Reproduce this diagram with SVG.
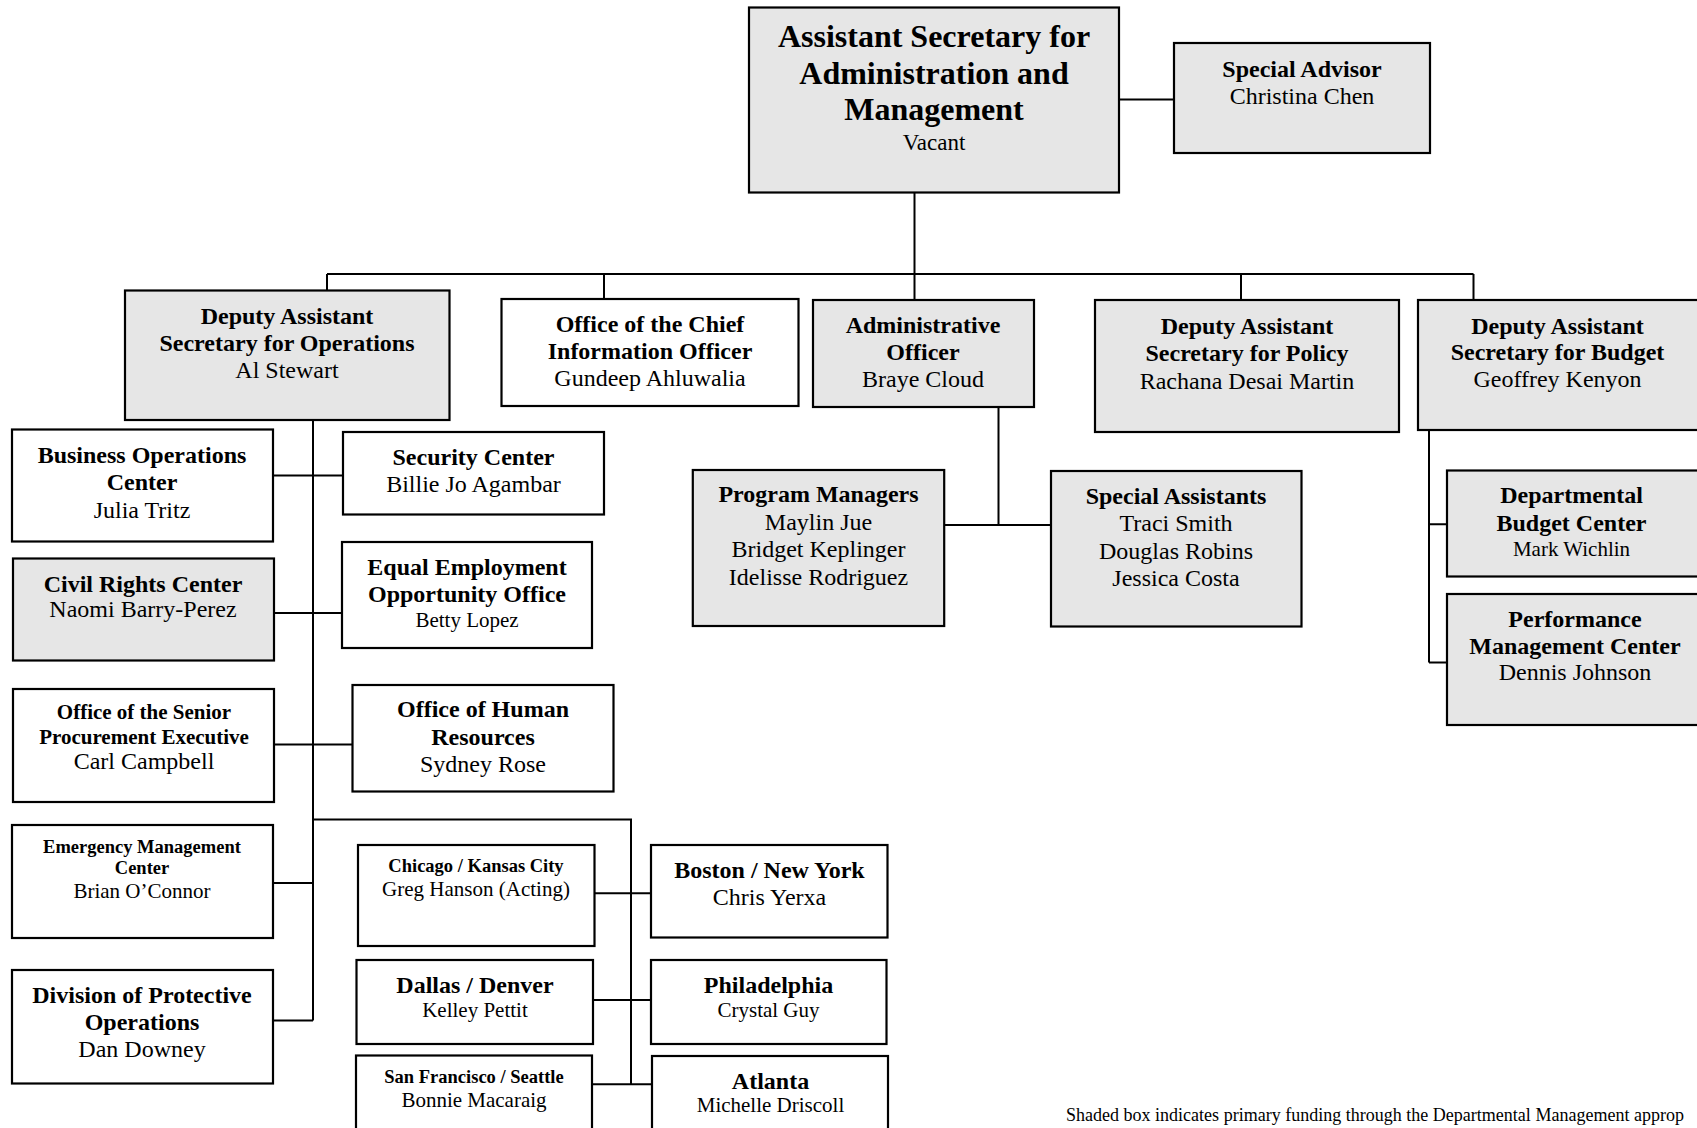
<svg xmlns="http://www.w3.org/2000/svg" width="1697" height="1128" viewBox="0 0 1697 1128">
<style>
.bx{stroke:#000;stroke-width:2.2}
.g{fill:#e6e6e6}
.w{fill:#fff}
text{font-family:"Liberation Serif","Times New Roman",serif;text-anchor:middle;fill:#000}
.b{font-weight:bold}
.f32{font-size:32px}
.f24{font-size:24px}
.f23{font-size:23px}
.f21{font-size:21px}
.f185{font-size:18.5px}
.note{font-size:18.5px;text-anchor:start}
.cn path{stroke:#000;stroke-width:2;fill:none}
</style>
<rect width="1697" height="1128" fill="#fff"/>
<g class="cn" id="connectors">
<path d="M1119 99.5H1174"/>
<path d="M914.5 192.6V274"/>
<path d="M327 274H1473.5"/>
<path d="M327 274V290.5M604 274V299M914.5 274V300M1241 274V300M1473.5 274V300"/>
<path d="M313 420V1020.6"/>
<path d="M273 475.5H343"/>
<path d="M274 613H342"/>
<path d="M274 744.5H352.5"/>
<path d="M273 883H313"/>
<path d="M273 1020.6H313"/>
<path d="M313 819.5H631V1084.3"/>
<path d="M594.5 893.3H651"/>
<path d="M593 1000H651"/>
<path d="M592 1084.3H652"/>
<path d="M998.5 407V525M944 525H1051"/>
<path d="M1429 429.7V662.4M1429 524.3H1447M1429 662.4H1447"/>
</g>
<g id="n-top"><rect class="bx g" x="749" y="7.5" width="370" height="185"/>
<text class="b f32" x="934" y="47">Assistant Secretary for</text>
<text class="b f32" x="934" y="83.5">Administration and</text>
<text class="b f32" x="934" y="120">Management</text>
<text class="f23" x="934" y="150">Vacant</text></g>
<g id="n-advisor"><rect class="bx g" x="1174" y="43" width="256" height="110"/>
<text class="b f24" x="1302" y="77">Special Advisor</text>
<text class="f24" x="1302" y="104">Christina Chen</text></g>
<g id="n-das-ops"><rect class="bx g" x="125" y="290.5" width="324.5" height="129.5"/>
<text class="b f24" x="287" y="324">Deputy Assistant</text>
<text class="b f24" x="287" y="351">Secretary for Operations</text>
<text class="f24" x="287" y="378">Al Stewart</text></g>
<g id="n-ocio"><rect class="bx w" x="501.5" y="299" width="297" height="107"/>
<text class="b f24" x="650" y="332">Office of the Chief</text>
<text class="b f24" x="650" y="359">Information Officer</text>
<text class="f24" x="650" y="386">Gundeep Ahluwalia</text></g>
<g id="n-admin"><rect class="bx g" x="813" y="300" width="221" height="107"/>
<text class="b f24" x="923" y="333">Administrative</text>
<text class="b f24" x="923" y="360">Officer</text>
<text class="f24" x="923" y="387">Braye Cloud</text></g>
<g id="n-das-policy"><rect class="bx g" x="1095" y="300" width="304" height="132"/>
<text class="b f24" x="1247" y="333.5">Deputy Assistant</text>
<text class="b f24" x="1247" y="360.5">Secretary for Policy</text>
<text class="f24" x="1247" y="388.5">Rachana Desai Martin</text></g>
<g id="n-das-budget"><rect class="bx g" x="1418" y="300" width="285" height="130"/>
<text class="b f24" x="1557.5" y="333.5">Deputy Assistant</text>
<text class="b f24" x="1557.5" y="360">Secretary for Budget</text>
<text class="f24" x="1557.5" y="387">Geoffrey Kenyon</text></g>
<g id="n-boc"><rect class="bx w" x="12" y="429.5" width="261" height="112"/>
<text class="b f24" x="142" y="463">Business Operations</text>
<text class="b f24" x="142" y="490">Center</text>
<text class="f24" x="142" y="518">Julia Tritz</text></g>
<g id="n-security"><rect class="bx w" x="343" y="432" width="261" height="82.5"/>
<text class="b f24" x="473.5" y="465">Security Center</text>
<text class="f24" x="473.5" y="492">Billie Jo Agambar</text></g>
<g id="n-civil"><rect class="bx g" x="13" y="558.5" width="261" height="102"/>
<text class="b f24" x="143" y="591.5">Civil Rights Center</text>
<text class="f24" x="143" y="617">Naomi Barry-Perez</text></g>
<g id="n-eeo"><rect class="bx w" x="342" y="542" width="250" height="106"/>
<text class="b f24" x="467" y="575">Equal Employment</text>
<text class="b f24" x="467" y="602">Opportunity Office</text>
<text class="f21" x="467" y="627">Betty Lopez</text></g>
<g id="n-ospe"><rect class="bx w" x="13" y="689" width="261" height="113"/>
<text class="b f21" x="144" y="718.5">Office of the Senior</text>
<text class="b f21" x="144" y="743.5">Procurement Executive</text>
<text class="f24" x="144" y="769">Carl Campbell</text></g>
<g id="n-ohr"><rect class="bx w" x="352.5" y="685" width="261" height="106.5"/>
<text class="b f24" x="483" y="717">Office of Human</text>
<text class="b f24" x="483" y="745">Resources</text>
<text class="f24" x="483" y="772">Sydney Rose</text></g>
<g id="n-emc"><rect class="bx w" x="12" y="825" width="261" height="113"/>
<text class="b f185" x="142" y="852.5">Emergency Management</text>
<text class="b f185" x="142" y="873.5">Center</text>
<text class="f21" x="142" y="897.5">Brian O’Connor</text></g>
<g id="n-dpo"><rect class="bx w" x="12" y="970" width="261" height="113.5"/>
<text class="b f24" x="142" y="1002.5">Division of Protective</text>
<text class="b f24" x="142" y="1030">Operations</text>
<text class="f24" x="142" y="1057">Dan Downey</text></g>
<g id="n-chicago"><rect class="bx w" x="358" y="845" width="236.5" height="101"/>
<text class="b f185" x="476" y="872.3">Chicago / Kansas City</text>
<text class="f21" x="476" y="895.7">Greg Hanson (Acting)</text></g>
<g id="n-dallas"><rect class="bx w" x="356.5" y="960" width="236.5" height="84"/>
<text class="b f24" x="475" y="993.3">Dallas / Denver</text>
<text class="f21" x="475" y="1016.7">Kelley Pettit</text></g>
<g id="n-sf"><rect class="bx w" x="356" y="1055.5" width="236" height="80"/>
<text class="b f185" x="474" y="1083.3">San Francisco / Seattle</text>
<text class="f21" x="474" y="1106.7">Bonnie Macaraig</text></g>
<g id="n-boston"><rect class="bx w" x="651" y="845" width="236.5" height="92.5"/>
<text class="b f24" x="769.5" y="877.7">Boston / New York</text>
<text class="f24" x="769.5" y="905.3">Chris Yerxa</text></g>
<g id="n-philly"><rect class="bx w" x="651" y="960" width="235.5" height="84"/>
<text class="b f24" x="768.5" y="992.7">Philadelphia</text>
<text class="f21" x="768.5" y="1016.7">Crystal Guy</text></g>
<g id="n-atlanta"><rect class="bx w" x="652" y="1056" width="236" height="80"/>
<text class="b f24" x="770.5" y="1088.7">Atlanta</text>
<text class="f21" x="770.5" y="1111.7">Michelle Driscoll</text></g>
<g id="n-pm"><rect class="bx g" x="692.8" y="470" width="251.4" height="156"/>
<text class="b f24" x="818.5" y="502">Program Managers</text>
<text class="f24" x="818.5" y="529.5">Maylin Jue</text>
<text class="f24" x="818.5" y="557">Bridget Keplinger</text>
<text class="f24" x="818.5" y="584.5">Idelisse Rodriguez</text></g>
<g id="n-sa"><rect class="bx g" x="1051" y="471" width="250.5" height="155.5"/>
<text class="b f24" x="1176" y="503.5">Special Assistants</text>
<text class="f24" x="1176" y="531">Traci Smith</text>
<text class="f24" x="1176" y="558.5">Douglas Robins</text>
<text class="f24" x="1176" y="586">Jessica Costa</text></g>
<g id="n-dbc"><rect class="bx g" x="1447" y="470.5" width="255" height="106"/>
<text class="b f24" x="1571.5" y="502.7">Departmental</text>
<text class="b f24" x="1571.5" y="530.5">Budget Center</text>
<text class="f21" x="1571.5" y="556">Mark Wichlin</text></g>
<g id="n-pmc"><rect class="bx g" x="1447" y="594" width="255" height="131"/>
<text class="b f24" x="1575" y="626.7">Performance</text>
<text class="b f24" x="1575" y="654.3">Management Center</text>
<text class="f24" x="1575" y="680">Dennis Johnson</text></g>
<text class="note" x="1066" y="1121" textLength="618" lengthAdjust="spacingAndGlyphs">Shaded box indicates primary funding through the Departmental Management approp</text>
</svg>
